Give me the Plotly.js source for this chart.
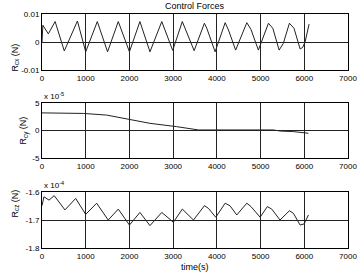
<!DOCTYPE html>
<html><head><meta charset="utf-8">
<script src="https://cdn.plot.ly/plotly-3.0.1.min.js"></script>
<style>html,body{margin:0;padding:0;background:#fff}#c{width:358px;height:272px}</style>
</head><body><div id="c"></div>
<script>
// Time samples (s) and control forces
const tX = [0,20,145,300,510,810,1000,1265,1500,1745,2000,2240,2470,2740,2990,3210,3480,3715,3770,3960,4190,4265,4430,4685,4780,4950,5180,5280,5425,5520,5660,5765,5905,5965,6020,6110];
const rcx = [0,0.006,0.0029,0.0073,-0.0032,0.0075,-0.0035,0.0073,-0.0035,0.0073,-0.0035,0.0073,-0.0035,0.0073,-0.003,0.0073,-0.0031,0.0067,0.0049,-0.0035,0.0069,0.0043,-0.0029,0.0069,0.0045,-0.0029,0.0067,0.0049,-0.0029,-0.0005,0.0067,0.0049,-0.0025,-0.0019,0.0001,0.0064];

const tY = [0,950,1480,2010,2470,3080,3160,3310,3580,5290,5450,5750,5980,6095];
const rcy_e5 = [3.2,3.1,2.8,2.0,1.3,0.7,0.6,0.3,0.1,0.1,-0.1,-0.2,-0.4,-0.5]; // x 10^-5 N

const tZ = [0,45,160,280,525,770,1000,1250,1515,1745,2000,2240,2470,2740,3005,3210,3465,3715,3805,3975,4190,4300,4455,4685,4780,4990,5155,5255,5445,5660,5750,5905,5995,6095];
const rcz_e4 = [-1.649,-1.617,-1.629,-1.613,-1.664,-1.623,-1.68,-1.64,-1.70,-1.661,-1.718,-1.673,-1.72,-1.673,-1.708,-1.661,-1.70,-1.649,-1.658,-1.69,-1.64,-1.649,-1.682,-1.64,-1.652,-1.69,-1.652,-1.661,-1.70,-1.667,-1.676,-1.718,-1.714,-1.682]; // x 10^-4 N

const xTicks = [0,1000,2000,3000,4000,5000,6000,7000];
const yTicksX = [-0.01,0,0.01];
const yTicksY = [-5,0,5];
const yTicksZ = [-1.8,-1.7,-1.6];

const FAM = '"Liberation Sans", Arial, sans-serif';
const F = {family:FAM, size:8, color:'#000'};
const FT = {family:FAM, size:9, color:'#000'};
const line = {color:'#222', width:1};

const traces = [
  {x:tX, y:rcx, xaxis:'x', yaxis:'y', mode:'lines', line},
  {x:tY, y:rcy_e5, xaxis:'x2', yaxis:'y2', mode:'lines', line},
  {x:tZ, y:rcz_e4, xaxis:'x3', yaxis:'y3', mode:'lines', line}
];

function xa(anchor){
  return {anchor, range:[0,7000], tickvals:xTicks, ticktext:xTicks.map(String),
    showgrid:true, gridcolor:'#222', gridwidth:1, zeroline:false,
    showline:true, mirror:true, linecolor:'#000', linewidth:1,
    ticks:'', tickfont:F, ticklabeloverflow:'allow'};
}
function ya(anchor, dom, rng, tv){
  return {anchor, domain:dom, range:rng, tickvals:tv, ticktext:tv.map(String),
    showgrid:true, gridcolor:'#222', gridwidth:1, zeroline:false,
    showline:true, mirror:true, linecolor:'#000', linewidth:1,
    ticks:'', tickfont:F, ticklabeloverflow:'allow'};
}

const layout = {
  width:358, height:272, showlegend:false,
  paper_bgcolor:'#fff', plot_bgcolor:'#fff',
  margin:{l:42, r:10, t:14, b:24},
  font:F,
  xaxis: xa('y'),
  xaxis2: xa('y2'),
  xaxis3: xa('y3'),
  yaxis: ya('x', [0.7607,1], [-0.01,0.01], yTicksX),
  yaxis2: ya('x2', [0.3846,0.6197], [-5,5], yTicksY),
  yaxis3: ya('x3', [0,0.2393], [-1.8,-1.6], yTicksZ),
  annotations:[
    {text:'Control Forces', xref:'paper', yref:'paper', x:0.5, y:1, yshift:8, yanchor:'middle', showarrow:false, font:FT},
    {text:'time(s)', xref:'paper', yref:'paper', x:0.5, y:0, yshift:-12, yanchor:'top', showarrow:false, font:FT},
    {text:'R<sub>cx</sub> (N)', xref:'paper', yref:'paper', x:-34/306, y:0.8804, textangle:-90, showarrow:false, font:FT},
    {text:'R<sub>cy</sub> (N)', xref:'paper', yref:'paper', x:-26/306, y:0.5021, textangle:-90, showarrow:false, font:FT},
    {text:'R<sub>cz</sub> (N)', xref:'paper', yref:'paper', x:-34/306, y:0.1197, textangle:-90, showarrow:false, font:FT},
    {text:'x 10<sup>-5</sup>', xref:'paper', yref:'paper', x:0, y:0.6197, yanchor:'bottom', xanchor:'left', showarrow:false, font:F},
    {text:'x 10<sup>-4</sup>', xref:'paper', yref:'paper', x:0, y:0.2393, yanchor:'bottom', xanchor:'left', showarrow:false, font:F}
  ]
};
Plotly.newPlot('c', traces, layout, {staticPlot:true, displayModeBar:false});
</script></body></html>
